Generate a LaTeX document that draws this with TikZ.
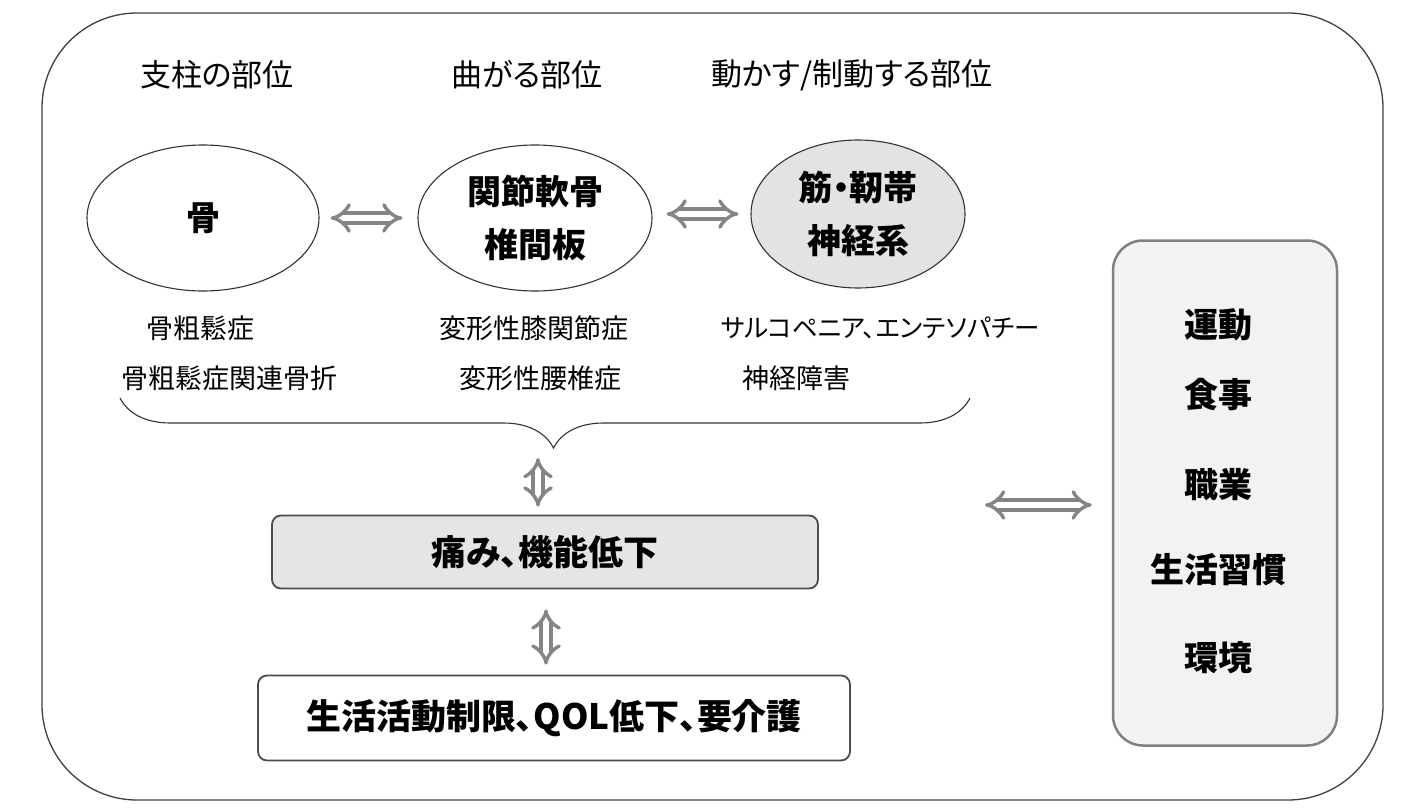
\documentclass[tikz,border=0pt]{standalone}
\usepackage{fontspec}
\setmainfont{Noto Sans CJK JP}[RawFeature=+palt]
\usetikzlibrary{shapes.geometric,arrows.meta,decorations.pathreplacing}
\tikzset{
  head/.style={font=\fontsize{31}{36}\selectfont},
  ell/.style={ellipse,draw=black!80,line width=1.1pt,inner sep=0pt,align=center,font=\fontsize{34}{53}\selectfont\bfseries},
  small/.style={font=\fontsize{27}{32}\selectfont},
  bigbox/.style={rectangle,rounded corners=9pt,draw=black!70,line width=1.8pt,align=center,font=\fontsize{35}{40}\selectfont\bfseries},
  rtext/.style={font=\fontsize{34}{40}\selectfont\bfseries},
  dbl/.style={draw=black!48,line width=3.4pt,double=white,double distance=6.5pt,{Implies[length=14pt,width=31pt]}-{Implies[length=14pt,width=31pt]}},
}
\begin{document}
\begin{tikzpicture}[x=1pt,y=-1pt]
\useasboundingbox (0,0) rectangle (1414,808);
\fill[white] (0,0) rectangle (1414,808);
% outer frame
\draw[black!75,line width=1.3pt,rounded corners=95pt] (42,13) rectangle (1383,800);
% headings
\node[head] (h1) at (217,75) {支柱の部位};
\node[head] (h2) at (527,75) {曲がる部位};
\node[head] (h3) at (852,75) {動かす/制動する部位};
% ellipses
\node[ell,minimum width=232pt,minimum height=146pt] (bone) at (203,218) {骨};
\node[ell,minimum width=234pt,minimum height=146pt] (cart) at (535,218) {関節軟骨\\椎間板};
\node[ell,fill=black!11,minimum width=214pt,minimum height=148pt] (musc) at (858,214) {筋・靭帯\\神経系};
\draw[dbl,shorten <=11pt,shorten >=15pt] (bone) -- (cart);
\draw[dbl,shorten <=14pt,shorten >=12pt] (cart.east |- musc.center) -- (musc);
% disease texts
\node[small] (d1) at (200,328) {骨粗鬆症};
\node[small] (d2) at (229,378) {骨粗鬆症関連骨折};
\node[small] (d3) at (534,328) {変形性膝関節症};
\node[small,font=\fontsize{25.5}{30}\selectfont] (d5) at (880,328) {サルコペニア、エンテソパチー};
\node[small] (d4) at (540,378) {変形性腰椎症};
\node[small] (d6) at (796,378) {神経障害};
% brace
\coordinate (bR) at (970,398);
\coordinate (bL) at (120,398);
\draw[black!80,line width=1.1pt,decoration={brace,amplitude=50pt,aspect=0.49},decorate] (bR) -- (bL);
\coordinate (tip) at (538,450);
% boxes
\node[bigbox,fill=black!10,minimum width=546pt,minimum height=73pt] (pain) at (545,552) {痛み、機能低下};
\node[bigbox,fill=white,minimum width=592pt,minimum height=85pt] (qol) at (554,718) {生活活動制限、QOL低下、要介護};
\draw[dbl,shorten <=8pt,shorten >=8pt] (tip) -- (tip |- pain.north);
\draw[dbl,shorten <=20pt,shorten >=10pt] (pain.south -| 546,0) -- (qol.north -| 546,0);
% right box
\node[rectangle,rounded corners=30pt,draw=black!50,line width=2.5pt,fill=black!5,minimum width=224pt,minimum height=505pt] (life) at (1225,493) {};
\node[rtext] (r1) at (1218,325) {運動};
\node[rtext] (r2) at (1218,395) {食事};
\node[rtext] (r3) at (1218,485) {職業};
\node[rtext] (r4) at (1218,570) {生活習慣};
\node[rtext] (r5) at (1218,658) {環境};
\coordinate (la) at (985,505);
\draw[dbl,shorten >=20pt] (la) -- (life.west |- la);
\end{tikzpicture}
\end{document}
